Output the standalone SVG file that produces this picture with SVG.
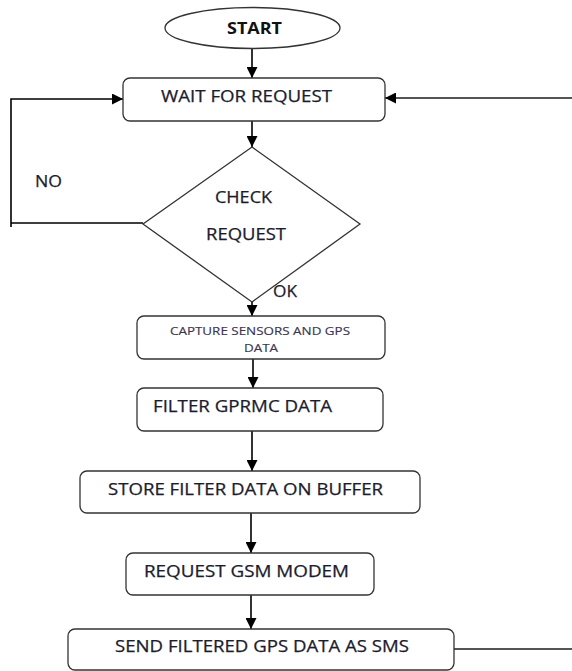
<svg xmlns="http://www.w3.org/2000/svg" width="572" height="671" viewBox="0 0 572 671">
  <style>
    .box { fill: #ffffff; stroke: #333333; stroke-width: 1.3; }
    .lbl { font-family: "Open Sans", "DejaVu Sans", sans-serif; font-size: 15.5px; fill: #1c1c2e; stroke: #1c1c2e; stroke-width: 0.25; }
    .small { font-size: 10.5px; fill: #3a3550; stroke: #3a3550; stroke-width: 0.15; }
    .bold { font-weight: bold; fill: #111111; stroke: none; }
    .wire { fill: none; stroke: #000000; stroke-width: 1.6; }
    .side { fill: none; stroke: #555555; stroke-width: 2; }
  </style>
  <defs>
    <marker id="arrow" viewBox="0 0 10 10" refX="10" refY="5" markerWidth="11" markerHeight="11" markerUnits="userSpaceOnUse" orient="auto">
      <path d="M0,0 L10,5 L0,10 Z" fill="#000000"/>
    </marker>
  </defs>
  <rect width="572" height="671" fill="#ffffff"/>

  <!-- connectors -->
  <g id="connectors">
    <line class="wire" x1="252" y1="49" x2="252" y2="78" marker-end="url(#arrow)"/>
    <line class="wire" x1="252" y1="121" x2="252" y2="147" marker-end="url(#arrow)"/>
    <line class="wire" x1="252" y1="296" x2="252" y2="316" marker-end="url(#arrow)"/>
    <line class="wire" x1="253" y1="359" x2="253" y2="388" marker-end="url(#arrow)"/>
    <line class="wire" x1="252" y1="431" x2="252" y2="471" marker-end="url(#arrow)"/>
    <line class="wire" x1="251" y1="513" x2="251" y2="553" marker-end="url(#arrow)"/>
    <line class="wire" x1="251" y1="595" x2="251" y2="629" marker-end="url(#arrow)"/>
    <!-- NO branch back to waiting -->
    <path class="wire" d="M143,223 L11,223 M11,227 L11,99 L123,99" marker-end="url(#arrow)"/>
    <!-- return path from SMS step -->
    <line class="side" x1="454" y1="649" x2="572" y2="649"/>
    <line class="side" x1="572" y1="98" x2="385" y2="98" marker-end="url(#arrow)"/>
  </g>

  <g id="start">
    <ellipse class="box" cx="252.5" cy="28" rx="87.5" ry="20.5"/>
    <text class="lbl bold" x="227" y="33.5" textLength="55" lengthAdjust="spacingAndGlyphs">START</text>
  </g>

  <g id="wait">
    <rect class="box" x="123" y="78" width="262" height="43" rx="7"/>
    <text class="lbl" x="161" y="101.5" textLength="171" lengthAdjust="spacingAndGlyphs">WAIT FOR REQUEST</text>
  </g>

  <g id="check">
    <polygon class="box" points="252,147 360,224 252,302 143,224"/>
    <text class="lbl" x="215" y="203" textLength="57" lengthAdjust="spacingAndGlyphs">CHECK</text>
    <text class="lbl" x="206" y="240" textLength="80" lengthAdjust="spacingAndGlyphs">REQUEST</text>
  </g>

  <g id="label-no">
    <text class="lbl" x="35" y="187" textLength="27" lengthAdjust="spacingAndGlyphs">NO</text>
  </g>
  <g id="label-ok">
    <text class="lbl" x="273" y="296.5" textLength="24" lengthAdjust="spacingAndGlyphs">OK</text>
  </g>

  <g id="capture">
    <rect class="box" x="137" y="316" width="248" height="43" rx="7"/>
    <text class="lbl small" x="170" y="335" textLength="180" lengthAdjust="spacingAndGlyphs">CAPTURE SENSORS AND GPS</text>
    <text class="lbl small" x="244" y="352" textLength="34" lengthAdjust="spacingAndGlyphs">DATA</text>
  </g>

  <g id="filter">
    <rect class="box" x="137" y="388" width="246" height="43" rx="7"/>
    <text class="lbl" x="153" y="412" textLength="179" lengthAdjust="spacingAndGlyphs" style="font-size:16.5px">FILTER GPRMC DATA</text>
  </g>

  <g id="store">
    <rect class="box" x="80" y="471" width="340" height="42" rx="7"/>
    <text class="lbl" x="108" y="494.5" textLength="275" lengthAdjust="spacingAndGlyphs">STORE FILTER DATA ON BUFFER</text>
  </g>

  <g id="gsm">
    <rect class="box" x="126" y="553" width="248" height="42" rx="7"/>
    <text class="lbl" x="144" y="577" textLength="205" lengthAdjust="spacingAndGlyphs">REQUEST GSM MODEM</text>
  </g>

  <g id="send">
    <rect class="box" x="68" y="629" width="386" height="41" rx="7"/>
    <text class="lbl" x="115" y="652" textLength="294" lengthAdjust="spacingAndGlyphs">SEND FILTERED GPS DATA AS SMS</text>
  </g>
</svg>
